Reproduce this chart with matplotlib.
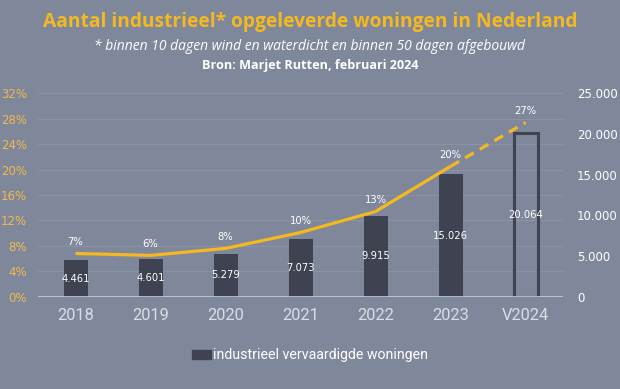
import matplotlib
matplotlib.use("Agg")
import matplotlib.pyplot as plt
from matplotlib import font_manager
from matplotlib.patches import Patch
import numpy as np

years = ["2018", "2019", "2020", "2021", "2022", "2023", "V2024"]
woningen = [4461, 4601, 5279, 7073, 9915, 15026, 20064]
woning_labels = ["4.461", "4.601", "5.279", "7.073", "9.915", "15.026", "20.064"]
aandeel = [6.8, 6.5, 7.6, 10.1, 13.4, 20.5, 27.4]
aandeel_labels = ["7%", "6%", "8%", "10%", "13%", "20%", "27%"]
left_ticks = [0, 4, 8, 12, 16, 20, 24, 28, 32]
right_ticks = [0, 5000, 10000, 15000, 20000, 25000]
right_tick_labels = ["0", "5.000", "10.000", "15.000", "20.000", "25.000"]

BG = "#7f889b"
BAR = "#3e4251"
YEL = "#f4b820"
LTICK = "#f2b84e"

names = {f.name for f in font_manager.fontManager.ttflist}
NARROW = "Liberation Sans Narrow" if "Liberation Sans Narrow" in names else "Roboto"

fig = plt.figure(figsize=(6.2, 3.89), dpi=100, facecolor=BG)
ax = fig.add_axes([38/620, 1-296.7/389, (563-38)/620, (296.7-93.3)/389])
ax.set_facecolor(BG)
ax2 = ax.twinx()

x = np.arange(len(years))
ax2.bar(x[:-1], woningen[:-1], width=0.32, color=BAR, zorder=2)
ax2.bar(x[-1:], woningen[-1:], width=0.32, facecolor="none", edgecolor=BAR, linewidth=2.2, zorder=2)
for xi, v, lab in zip(x, woningen, woning_labels):
    ax2.text(xi, v/2, lab, ha="center", va="center", color="white", fontsize=7.2,
             family="DejaVu Sans", zorder=5)
ax2.set_ylim(0, 25000)
ax2.set_yticks(right_ticks)
ax2.set_yticklabels(right_tick_labels)

ax.set_ylim(0, 32)
ax.set_xlim(-0.5, len(years) - 0.5)
ax.set_yticks(left_ticks)
ax.set_yticklabels([f"{t}%" for t in left_ticks])
ax.set_zorder(ax2.get_zorder() + 1)
ax.patch.set_visible(False)
ax.plot(x[:-1], aandeel[:-1], color=YEL, linewidth=2.3, solid_capstyle="butt", zorder=4)
ax.plot(x[-2:], aandeel[-2:], color=YEL, linewidth=2.3, dashes=(3.1, 2.2), zorder=4)
for xi, v, lab in zip(x, aandeel, aandeel_labels):
    ax.text(xi, v + 1.85, lab, ha="center", va="center", color="white", fontsize=7.2,
            family="DejaVu Sans", zorder=5)

for t in left_ticks[1:]:
    ax2.axhline(t * 25000 / 32, color="#8a92a4", linewidth=0.8, zorder=0)
ax.axhline(0, color="#c9cdd8", linewidth=1.2, zorder=3)

for a in (ax, ax2):
    for s in a.spines.values():
        s.set_visible(False)
    a.tick_params(length=0)

ax.tick_params(axis="y", colors=LTICK, labelsize=8.5, pad=8)
for lab in ax.get_yticklabels():
    lab.set_family("DejaVu Sans")
ax2.tick_params(axis="y", colors="white", labelsize=8.5, pad=10)
for lab in ax2.get_yticklabels():
    lab.set_family("DejaVu Sans")
ax.set_xticks(x)
ax.set_xticklabels(years, family=NARROW, fontsize=11.8, color="#dadde5")
ax.tick_params(axis="x", pad=8)

fig.text(0.5, 1-22.5/389, "Aantal industrieel* opgeleverde woningen in Nederland",
         ha="center", va="center", color=YEL, fontsize=13.8, fontweight="bold", family="Open Sans")
fig.text(0.5, 1-46/389, "* binnen 10 dagen wind en waterdicht en binnen 50 dagen afgebouwd",
         ha="center", va="center", color="white", fontsize=10, style="italic", family="Open Sans")
fig.text(0.5, 1-66/389, "Bron: Marjet Rutten, februari 2024",
         ha="center", va="center", color="white", fontsize=9.1, fontweight="bold", family="Open Sans")

leg = fig.legend(handles=[Patch(facecolor=BAR, edgecolor=BAR)], labels=["industrieel vervaardigde woningen"],
                 loc="center", bbox_to_anchor=(0.5, 1-355.5/389), frameon=False,
                 prop={"family": NARROW, "size": 10.2},
                 handlelength=1.3, handleheight=0.5, handletextpad=0.15)
for t in leg.get_texts():
    t.set_color("white")

fig.savefig("out.png", dpi=100, facecolor=BG)
